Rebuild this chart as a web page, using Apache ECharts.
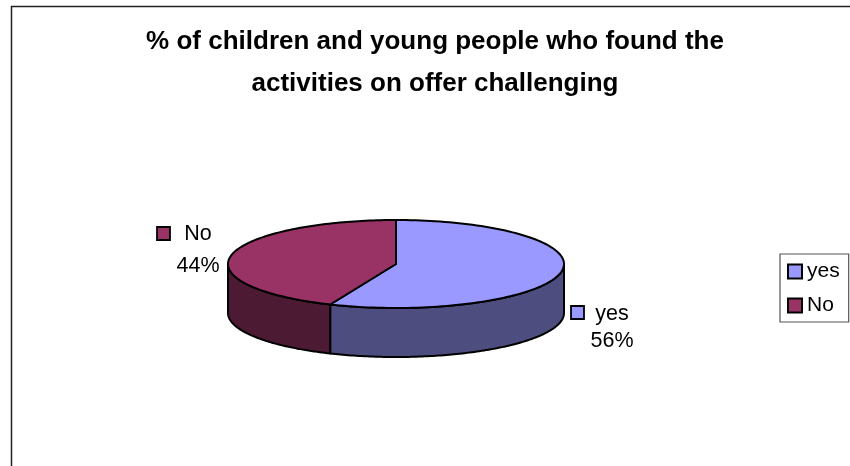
<!DOCTYPE html>
<html>
<head>
<meta charset="utf-8">
<style>html,body{margin:0;padding:0;background:#fff}#chart{width:850px;height:466px}</style>
<script src="https://cdn.jsdelivr.net/npm/echarts@6/dist/echarts.min.js"></script>
</head>
<body>
<div id="chart"></div>
<script>
const chartTitle = '% of children and young people who found the\nactivities on offer challenging';
const categories = ['yes', 'No'];
const shares = [56, 44];
const topColors = ['#9999ff', '#993366'];
const wallColors = ['#4d4d80', '#4d1a33'];
const fontFamily = '"Liberation Sans", Arial, sans-serif';

// Tilted disc geometry: ellipse centre, radii, wall depth and perspective factor.
const disc = { cx: 396, cy: 264, rx: 168, ry: 44, depth: 49, perspective: 0.935 };
// Where each slice's data label sits, as [key x, key y, name x, name y, share x, share y].
const labelSpots = [
  [571, 306, 612, 314, 612, 341],
  [157, 227, 198, 234, 198, 266]
];

const total = shares.reduce((a, b) => a + b, 0);

// Perspective makes the near half of the disc take up more of the rim.
function projectAngle(angle) {
  return 2 * Math.atan2(disc.perspective * Math.sin(angle / 2), Math.cos(angle / 2));
}
// Angles run clockwise from twelve o'clock.
function rim(angle, drop) {
  return [disc.cx + disc.rx * Math.sin(angle), disc.cy - disc.ry * Math.cos(angle) + (drop || 0)];
}
function arc(from, to, drop) {
  const pts = [];
  const steps = 120;
  for (let i = 0; i <= steps; i++) pts.push(rim(from + (to - from) * i / steps, drop));
  return pts;
}

function sliceRenderer(index) {
  return function (params, api) {
    let start = 0;
    for (let i = 0; i < index; i++) start += shares[i];
    const from = projectAngle(start / total * Math.PI * 2);
    const to = projectAngle((start + api.value(0)) / total * Math.PI * 2);
    const line = { stroke: '#000', lineWidth: 2, lineJoin: 'round' };
    const children = [];

    // The wall shows only along the front half of the rim.
    const wallFrom = Math.max(from, Math.PI / 2);
    const wallTo = Math.min(to, Math.PI * 1.5);
    if (wallTo > wallFrom) {
      const upper = arc(wallFrom, wallTo, 0);
      const lower = arc(wallFrom, wallTo, disc.depth).reverse();
      children.push({
        type: 'polygon',
        shape: { points: upper.concat(lower) },
        style: Object.assign({ fill: wallColors[index] }, line)
      });
    }
    children.push({
      type: 'polygon',
      shape: { points: [[disc.cx, disc.cy]].concat(arc(from, to, 0)) },
      style: Object.assign({ fill: topColors[index] }, line)
    });

    const spot = labelSpots[index];
    children.push({
      type: 'rect',
      shape: { x: spot[0], y: spot[1], width: 13, height: 13 },
      style: { fill: topColors[index], stroke: '#000', lineWidth: 1.8 }
    });
    const textStyle = { font: '21.5px ' + fontFamily, fill: '#000', textAlign: 'center', textVerticalAlign: 'middle' };
    children.push({ type: 'text', style: Object.assign({ text: categories[index], x: spot[2], y: spot[3] }, textStyle) });
    children.push({ type: 'text', style: Object.assign({ text: api.value(0) + '%', x: spot[4], y: spot[5] }, textStyle) });
    return { type: 'group', children };
  };
}

const chart = echarts.init(document.getElementById('chart'), null, { renderer: 'canvas' });
chart.setOption({
  animation: false,
  backgroundColor: '#fff',
  graphic: [{
    type: 'rect',
    z: -10,
    shape: { x: 11.5, y: 6.5, width: 900, height: 600 },
    style: { fill: '#fff', stroke: '#222', lineWidth: 1.5 }
  }],
  title: {
    text: chartTitle,
    left: 430,
    top: 16,
    textAlign: 'center',
    textStyle: { fontFamily, fontWeight: 'bold', fontSize: 26, lineHeight: 42, color: '#000' }
  },
  legend: {
    orient: 'vertical',
    left: 780,
    top: 254,
    padding: [7, 9, 6, 7],
    itemGap: 13,
    itemWidth: 14,
    itemHeight: 14,
    icon: 'rect',
    borderColor: '#555',
    borderWidth: 1.2,
    backgroundColor: '#fff',
    data: categories,
    textStyle: { fontFamily, fontSize: 21, color: '#000', padding: [0, 0, 0, 0] }
  },
  series: categories.map((name, i) => ({
    type: 'custom',
    name,
    coordinateSystem: 'none',
    renderItem: sliceRenderer(i),
    data: [[shares[i]]],
    itemStyle: { color: topColors[i], borderColor: '#000', borderWidth: 1.8 },
    silent: true
  }))
});
</script>
</body>
</html>
